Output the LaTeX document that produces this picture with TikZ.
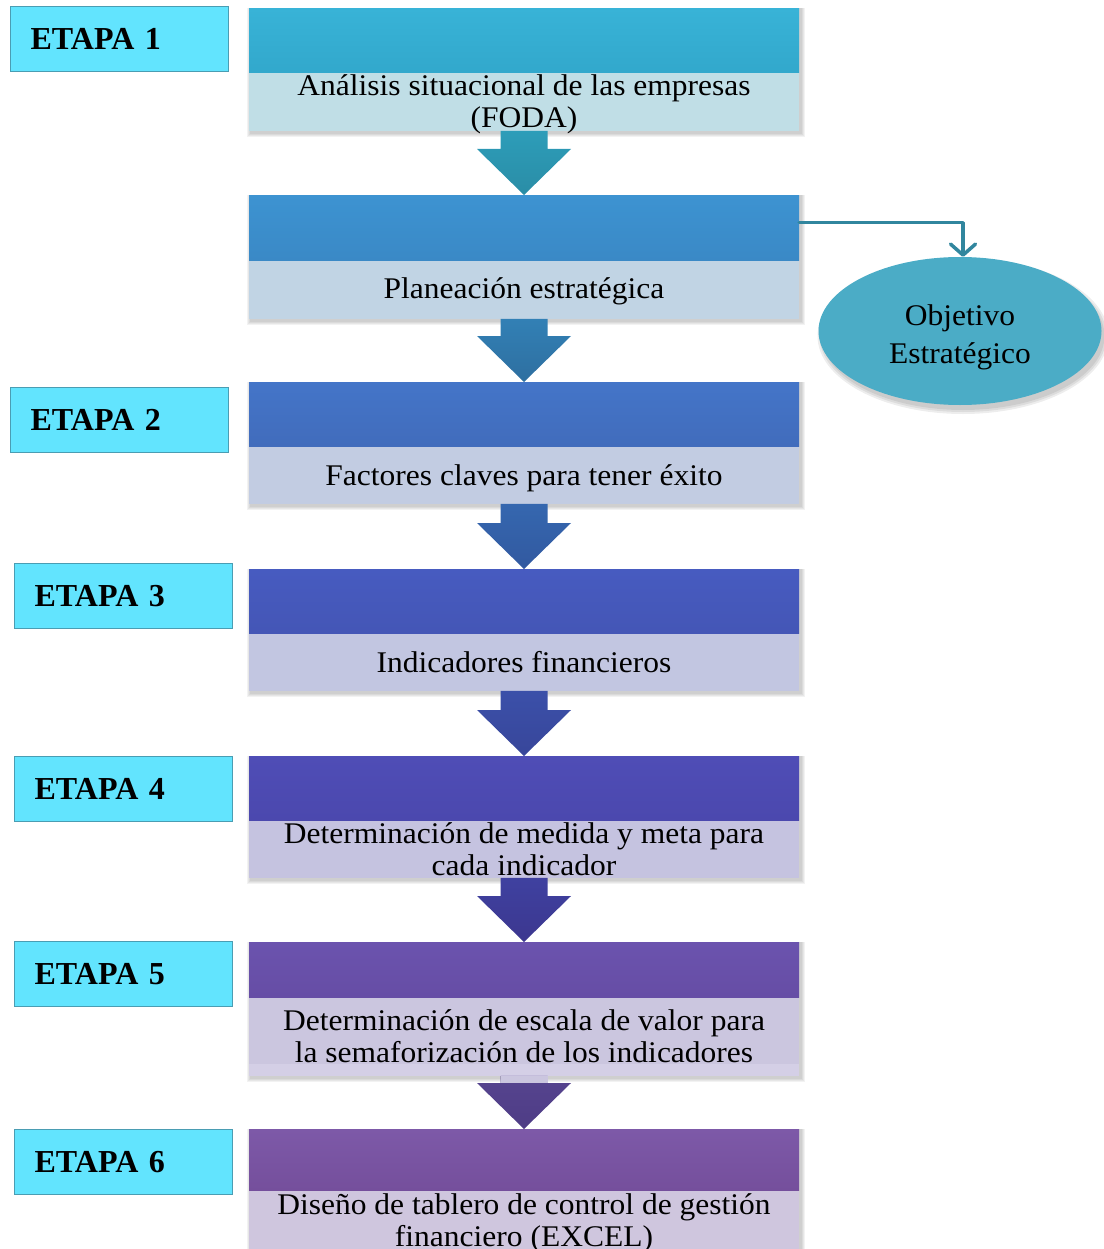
\documentclass[tikz,border=0pt]{standalone}
\usepackage{fontspec}
\setmainfont{Liberation Serif}[FakeStretch=1.05]
\newfontfamily\etapafont{Liberation Serif}
\usetikzlibrary{calc,shapes.geometric,arrows.meta}
\pgfdeclarelayer{background}
\pgfsetlayers{background,main}

% header (top/bottom) and body colours of the seven steps
\definecolor{c1t}{HTML}{38B3D7}\definecolor{c1b}{HTML}{32A8CC}\definecolor{c1l}{HTML}{C0DEE6}
\definecolor{c2t}{HTML}{3D93D1}\definecolor{c2b}{HTML}{3A89C6}\definecolor{c2l}{HTML}{C1D4E4}
\definecolor{c3t}{HTML}{4475C8}\definecolor{c3b}{HTML}{416CBC}\definecolor{c3l}{HTML}{C2CCE2}
\definecolor{c4t}{HTML}{475BC0}\definecolor{c4b}{HTML}{4456B6}\definecolor{c4l}{HTML}{C2C6E1}
\definecolor{c5t}{HTML}{4F4DB6}\definecolor{c5b}{HTML}{4B48AE}\definecolor{c5l}{HTML}{C5C3E0}
\definecolor{c6t}{HTML}{6B53AE}\definecolor{c6b}{HTML}{664DA5}\definecolor{c6l}{HTML}{CBC6DF}
\definecolor{c7t}{HTML}{7D59A8}\definecolor{c7b}{HTML}{754F9C}\definecolor{c7l}{HTML}{CFC6DE}
\definecolor{c6pale}{HTML}{D4CFE6}
% block arrows (top/bottom)
\definecolor{a1t}{HTML}{2D9DB9}\definecolor{a1b}{HTML}{2A8DA6}
\definecolor{a2t}{HTML}{3280B5}\definecolor{a2b}{HTML}{2E6FA0}
\definecolor{a3t}{HTML}{3567AF}\definecolor{a3b}{HTML}{3259A0}
\definecolor{a4t}{HTML}{3B50A9}\definecolor{a4b}{HTML}{38469A}
\definecolor{a5t}{HTML}{3F41A0}\definecolor{a5b}{HTML}{3C378F}
\definecolor{a6t}{HTML}{56448F}\definecolor{a6b}{HTML}{4E3C85}
% stage labels, goal ellipse, side link
\definecolor{etapafill}{HTML}{62E4FE}
\definecolor{etapaline}{HTML}{4A9DB3}
\definecolor{goalfill}{HTML}{4BACC6}
\definecolor{linkcol}{HTML}{31869E}

% one step: name, top y, header height, body height, header top/bottom colours, body colour, text, text drop
\newcommand\bloque[9]{%
  \node[stephead, minimum height=#3, top color=#5, bottom color=#6] (h#1) at (524,-#2) {};
  \node[stepbody, minimum height=#4, fill=#7] (b#1) at (h#1.south) {};
  \node[steptext] (t#1) at ($(b#1.center)+(0,-#9)$) {#8};
}
% block arrow from the body of one step to the header of the next
\newcommand\flecha[4]{%
  \shade[top color=#3, bottom color=#4]
    ($(#1.south)+(-23.5,0)$) -- ($(#2.north)+(-23.5,46)$) -- ($(#2.north)+(-47,46)$)
    -- (#2.north) -- ($(#2.north)+(47,46)$) -- ($(#2.north)+(23.5,46)$)
    -- ($(#1.south)+(23.5,0)$) -- cycle;
}

\begin{document}
\begin{tikzpicture}[x=1pt,y=1pt,
  stephead/.style={rectangle, minimum width=550pt, inner sep=0pt, anchor=north},
  stepbody/.style={rectangle, minimum width=550pt, inner sep=0pt, anchor=north},
  steptext/.style={align=center, inner sep=0pt, font=\fontsize{30}{32}\selectfont},
  etapabox/.style={rectangle, draw=etapaline, line width=1.3pt, fill=etapafill,
    minimum height=65pt, text width=178pt, inner xsep=20pt, inner ysep=0pt,
    align=left, anchor=north west, font=\etapafont\bfseries\fontsize{32}{36}\selectfont},
  goal/.style={ellipse, fill=goalfill, minimum width=283pt, minimum height=148pt, inner sep=0pt},
  goaltext/.style={align=center, inner sep=0pt, font=\fontsize{30}{38}\selectfont},
  link/.style={draw=linkcol, line width=3.5pt, line cap=round, line join=round,
    -{Straight Barb[length=11pt,width=25pt,round]}}
]
\useasboundingbox (0,0) rectangle (1103,-1249);
\clip (0,0) rectangle (1103,-1249);

% steps
\bloque{1}{8}{64}{58}{c1t}{c1b}{c1l}{Análisis situacional de las empresas\\(FODA)}{3}
\bloque{2}{195}{65}{58}{c2t}{c2b}{c2l}{Planeación estratégica}{2}
\bloque{3}{382}{64}{57}{c3t}{c3b}{c3l}{Factores claves para tener éxito}{3}
\bloque{4}{569}{64}{57}{c4t}{c4b}{c4l}{Indicadores financieros}{0}
\bloque{5}{756}{64}{57}{c5t}{c5b}{c5l}{Determinación de medida y meta para\\cada indicador}{0}
\bloque{6}{942}{55}{66}{c6t}{c6b}{c6l}{}{0}
\fill[c6pale] (b6.south west) rectangle ($(b6.south east)+(0,-12)$);
\node[steptext] (t6) at ($(b6.center)+(0,-6)$) {Determinación de escala de valor para\\la semaforización de los indicadores};
\bloque{7}{1129}{61}{60}{c7t}{c7b}{c7l}{Diseño de tablero de control de gestión\\financiero (EXCEL)}{3}

% block arrows
\flecha{b1}{h2}{a1t}{a1b}
\flecha{b2}{h3}{a2t}{a2b}
\flecha{b3}{h4}{a3t}{a3b}
\flecha{b4}{h5}{a4t}{a4b}
\flecha{b5}{h6}{a5t}{a5b}
\coordinate (b6end) at ($(b6.south)+(0,-12)$);
\flecha{b6end}{h7}{a6t}{a6b}
\fill[c6l] ($(b6end)+(-23.5,0)$) rectangle ($(h7.north)+(23.5,46)$);

% goal
\node[goal] (obj) at (960,-331) {};
\node[goaltext] (objt) at ($(obj.center)+(0,-6)$) {Objetivo\\Estratégico};
\draw[link] ($(h2.east)+(0,5)$) -| ($(obj.north)+(3,0)$);

% stage labels
\node[etapabox] (e1) at (10,-6) {ETAPA 1};
\node[etapabox] (e2) at (10,-387) {ETAPA 2};
\node[etapabox] (e3) at (14,-563) {ETAPA 3};
\node[etapabox] (e4) at (14,-756) {ETAPA 4};
\node[etapabox] (e5) at (14,-941) {ETAPA 5};
\node[etapabox] (e6) at (14,-1129) {ETAPA 6};

% soft shadows under the steps and the goal
\begin{pgfonlayer}{background}
  \foreach \n/\bot in {1/b1.south,2/b2.south,3/b3.south,4/b4.south,5/b5.south,6/b6end,7/b7.south} {
    \foreach \s in {1,2,3,4} {
      \fill[black,opacity=0.05] ($(h\n.north west)+(2-\s,0)$) rectangle ($(b\n.east |- \bot)+(2+\s,-2-\s)$);
    }
  }
  \foreach \s in {0,2,4} {
    \fill[black,opacity=0.07] ($(obj.center)+(3,-5)$) ellipse [x radius=141.5+\s, y radius=74+\s];
  }
\end{pgfonlayer}
\end{tikzpicture}
\end{document}
